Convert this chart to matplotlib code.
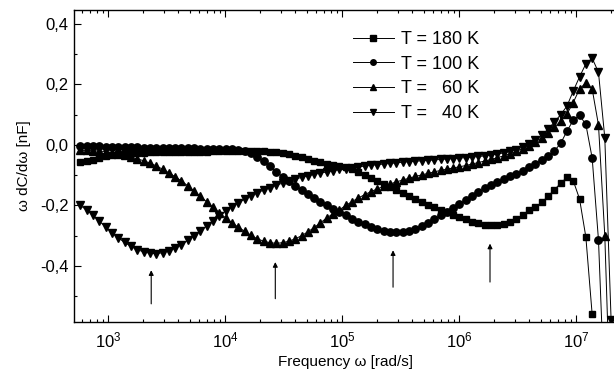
import matplotlib
matplotlib.use('Agg')
from matplotlib import pyplot as plt
from matplotlib.ticker import FixedLocator, FuncFormatter, LogLocator
import numpy as np

# log10 of the measuring frequencies (rad/s)
log_w = [2.764, 2.818, 2.872, 2.926, 2.980, 3.034, 3.088, 3.142, 3.196, 3.250,
         3.304, 3.358, 3.412, 3.466, 3.520, 3.574, 3.628, 3.682, 3.736, 3.790,
         3.844, 3.898, 3.952, 4.006, 4.060, 4.114, 4.168, 4.222, 4.276, 4.330,
         4.384, 4.438, 4.492, 4.546, 4.600, 4.654, 4.708, 4.762, 4.816, 4.870,
         4.924, 4.978, 5.032, 5.086, 5.140, 5.194, 5.248, 5.302, 5.356, 5.410,
         5.464, 5.518, 5.572, 5.626, 5.680, 5.734, 5.788, 5.842, 5.896, 5.950,
         6.004, 6.058, 6.112, 6.166, 6.220, 6.274, 6.328, 6.382, 6.436, 6.490,
         6.544, 6.598, 6.652, 6.706, 6.760, 6.814, 6.868, 6.922, 6.976, 7.030,
         7.084, 7.138, 7.192, 7.246, 7.300]

# omega dC/domega [nF]
t180 = [-0.055, -0.054, -0.050, -0.044, -0.037, -0.032, -0.029, -0.027, -0.026, -0.025,
        -0.025, -0.024, -0.024, -0.024, -0.023, -0.023, -0.023, -0.022, -0.022, -0.022,
        -0.022, -0.021, -0.021, -0.021, -0.021, -0.020, -0.020, -0.020, -0.020, -0.021,
        -0.022, -0.024, -0.027, -0.031, -0.036, -0.041, -0.047, -0.052, -0.057, -0.062,
        -0.066, -0.070, -0.074, -0.079, -0.088, -0.098, -0.108, -0.118, -0.130, -0.140,
        -0.150, -0.160, -0.170, -0.180, -0.190, -0.198, -0.206, -0.214, -0.222, -0.230,
        -0.238, -0.246, -0.253, -0.259, -0.263, -0.265, -0.264, -0.260, -0.253, -0.243,
        -0.231, -0.216, -0.205, -0.190, -0.170, -0.148, -0.127, -0.107, -0.118, -0.178,
        -0.304, -0.560]

t100 = [-0.004, -0.004, -0.005, -0.005, -0.006, -0.006, -0.007, -0.007, -0.008, -0.008,
        -0.009, -0.009, -0.009, -0.010, -0.010, -0.010, -0.011, -0.011, -0.011, -0.012,
        -0.012, -0.012, -0.013, -0.013, -0.014, -0.015, -0.019, -0.027, -0.039, -0.054,
        -0.071, -0.088, -0.105, -0.120, -0.134, -0.148, -0.161, -0.174, -0.187, -0.199,
        -0.210, -0.221, -0.232, -0.243, -0.253, -0.262, -0.270, -0.277, -0.283, -0.287,
        -0.288, -0.287, -0.283, -0.277, -0.268, -0.257, -0.245, -0.233, -0.221, -0.208,
        -0.195, -0.182, -0.168, -0.155, -0.143, -0.132, -0.122, -0.113, -0.104, -0.095,
        -0.085, -0.074, -0.062, -0.050, -0.036, -0.020, 0.005, 0.045, 0.082, 0.098,
        0.068, -0.043, -0.314, -0.850]

t60 = [-0.018, -0.018, -0.019, -0.020, -0.022, -0.025, -0.029, -0.034, -0.040, -0.046,
       -0.052, -0.060, -0.069, -0.080, -0.092, -0.105, -0.119, -0.135, -0.152, -0.170,
       -0.188, -0.206, -0.224, -0.241, -0.257, -0.272, -0.285, -0.299, -0.310, -0.318,
       -0.323, -0.325, -0.323, -0.318, -0.310, -0.300, -0.287, -0.273, -0.257, -0.241,
       -0.227, -0.214, -0.200, -0.187, -0.175, -0.164, -0.154, -0.145, -0.137, -0.129,
       -0.122, -0.116, -0.110, -0.104, -0.099, -0.094, -0.089, -0.084, -0.080, -0.076,
       -0.072, -0.068, -0.063, -0.058, -0.053, -0.048, -0.042, -0.036, -0.029, -0.021,
       -0.012, -0.002, 0.010, 0.024, 0.040, 0.058, 0.078, 0.102, 0.140, 0.185,
       0.205, 0.185, 0.066, -0.300, -0.950]

t40 = [-0.200, -0.215, -0.233, -0.252, -0.271, -0.290, -0.307, -0.322, -0.335, -0.346,
       -0.353, -0.358, -0.359, -0.356, -0.350, -0.341, -0.329, -0.315, -0.300, -0.284,
       -0.267, -0.250, -0.234, -0.218, -0.204, -0.191, -0.179, -0.168, -0.158, -0.149,
       -0.141, -0.133, -0.126, -0.119, -0.113, -0.107, -0.102, -0.097, -0.093, -0.089,
       -0.085, -0.081, -0.078, -0.075, -0.072, -0.070, -0.067, -0.065, -0.063, -0.061,
       -0.059, -0.057, -0.055, -0.054, -0.052, -0.051, -0.049, -0.048, -0.046, -0.045,
       -0.043, -0.042, -0.040, -0.038, -0.036, -0.033, -0.030, -0.026, -0.021, -0.015,
       -0.007, 0.003, 0.016, 0.032, 0.052, 0.075, 0.100, 0.128, 0.178, 0.225,
       0.268, 0.287, 0.240, 0.023, -0.580]

labels = ['T = 180 K', 'T = 100 K', 'T =   60 K', 'T =   40 K']

# arrows marking the minima
arrow_w = [2340, 2.69e4, 2.73e5, 1.84e6]
arrow_tail = [-0.525, -0.508, -0.470, -0.453]
arrow_head = [-0.414, -0.387, -0.348, -0.326]

plt.rcParams['font.family'] = ['Liberation Sans', 'DejaVu Sans']
plt.rcParams['mathtext.fontset'] = 'custom'
plt.rcParams['mathtext.rm'] = 'Liberation Sans'
plt.rcParams['mathtext.it'] = 'Liberation Sans:italic'


def desenha():
    fig = plt.figure(figsize=(6.14, 3.71), dpi=100)
    ax = fig.add_axes([74 / 614, 1 - 321.7 / 371, 543 / 614, 311.7 / 371])

    w = 10 ** np.array(log_w)
    series = [(t180, 's', 5.0), (t100, 'o', 5.3), (t60, '^', 5.8), (t40, 'v', 5.8)]
    for (vals, mk, ms), lab in zip(series, labels):
        ax.plot(w[:len(vals)], vals, color='black', lw=0.7, marker=mk, ms=ms,
                mec='black', mfc='black', label=lab)

    for x, y0, y1 in zip(arrow_w, arrow_tail, arrow_head):
        ax.annotate('', xy=(x, y1), xytext=(x, y0),
                    arrowprops=dict(arrowstyle='-|>', color='black', lw=0.8,
                                    mutation_scale=7, shrinkA=0, shrinkB=0))

    ax.set_xscale('log')
    ax.set_xlim(512, 2.24e7)
    ax.set_ylim(-0.584, 0.446)
    ax.xaxis.set_major_locator(LogLocator(base=10, numticks=10))
    ax.xaxis.set_minor_locator(LogLocator(base=10, subs=np.arange(2, 10), numticks=20))
    ax.yaxis.set_major_locator(FixedLocator([-0.4, -0.2, 0.0, 0.2, 0.4]))
    ax.yaxis.set_minor_locator(FixedLocator([-0.5, -0.3, -0.1, 0.1, 0.3]))
    ax.yaxis.set_major_formatter(FuncFormatter(
        lambda v, p: ('%.1f' % (0.0 if abs(v) < 1e-9 else v)).replace('.', ',')))

    ax.tick_params(which='both', direction='in', top=True, right=False, width=0.8)
    ax.tick_params(which='major', length=5, labelsize=12)
    ax.tick_params(which='minor', length=2.5)
    ax.tick_params(axis='x', which='major', pad=6)
    ax.tick_params(axis='y', which='major', pad=4)
    for s in ax.spines.values():
        s.set_linewidth(1.0)

    ax.set_xlabel('Frequency ω [rad/s]', fontsize=11, labelpad=4)
    ax.set_ylabel('ω dC/dω [nF]', fontsize=11, labelpad=6)

    ax.legend(loc='upper left', bbox_to_anchor=(0.513, 0.932), frameon=False,
              fontsize=13, handlelength=2.3, handletextpad=0.4, labelspacing=0.42,
              markerscale=0.75, borderpad=0, borderaxespad=0)

    plt.savefig('out.png', dpi=100)


if __name__ == '__main__':
    desenha()
